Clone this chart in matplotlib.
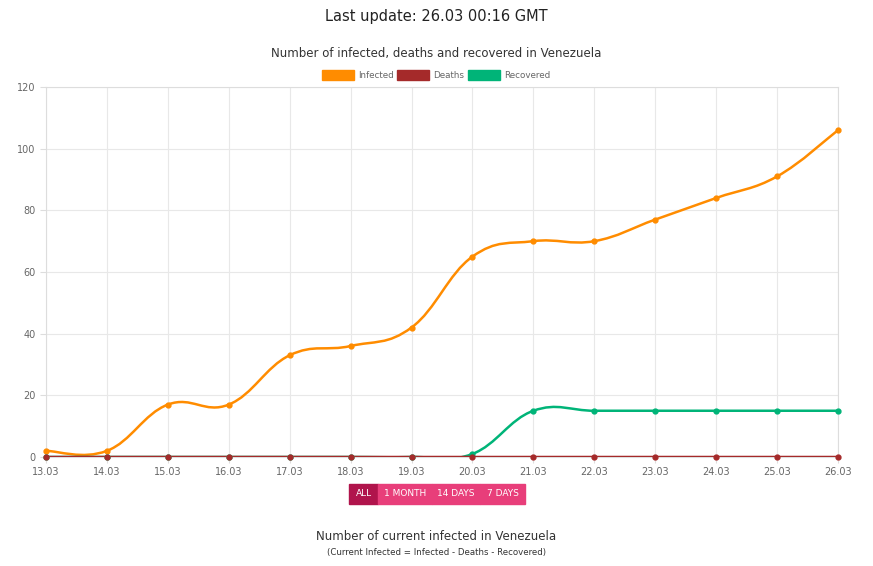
import matplotlib.pyplot as plt
from matplotlib.path import Path
from matplotlib.patches import PathPatch, Rectangle
import numpy as np

dates = ['13.03', '14.03', '15.03', '16.03', '17.03', '18.03', '19.03',
         '20.03', '21.03', '22.03', '23.03', '24.03', '25.03', '26.03']
infected = [2, 2, 17, 17, 33, 36, 42, 65, 70, 70, 77, 84, 91, 106]
deaths = [0] * 14
recovered = [0, 0, 0, 0, 0, 0, 0, 1, 15, 15, 15, 15, 15, 15]

W, H = 873, 566
fig = plt.figure(figsize=(W / 100, H / 100), dpi=100)
ax = fig.add_axes([46 / W, 1 - 457 / H, (838 - 46) / W, (457 - 87) / H])


def smooth_path(x, y, t=0.4):
    # Chart.js-like bezier with tension
    x = np.asarray(x, float); y = np.asarray(y, float)
    verts = [(x[0], y[0])]
    codes = [Path.MOVETO]
    n = len(x)
    for i in range(n - 1):
        p0 = i - 1 if i > 0 else i
        p3 = i + 2 if i + 2 < n else i + 1
        c1 = (x[i] + t / 2 * (x[i + 1] - x[p0]), y[i] + t / 2 * (y[i + 1] - y[p0]))
        c2 = (x[i + 1] - t / 2 * (x[p3] - x[i]), y[i + 1] - t / 2 * (y[p3] - y[i]))
        verts += [c1, c2, (x[i + 1], y[i + 1])]
        codes += [Path.CURVE4] * 3
    return Path(verts, codes)


xs = np.arange(len(dates))
series = [(infected, '#ff8c00', 'Infected'),
          (recovered, '#00b478', 'Recovered'),
          (deaths, '#a52a2a', 'Deaths')]
for vals, col, lab in series:
    ax.add_patch(PathPatch(smooth_path(xs, vals), fill=False, edgecolor=col, lw=1.8, zorder=3))
    ax.plot(xs, vals, 'o', color=col, ms=3.5, zorder=4, clip_on=False)

ax.set_xlim(0, len(dates) - 1)
ax.set_ylim(0, 120)
ax.set_yticks(range(0, 121, 20))
ax.set_xticks(xs)
ax.set_xticklabels(dates)
ax.tick_params(labelsize=7, colors='#666666', length=4, color='#dddddd')
ax.grid(color='#e8e8e8', lw=0.8)
for s in ax.spines.values():
    s.set_color('#dddddd')

fig.text(0.5, 1 - 16 / H, 'Last update: 26.03 00:16 GMT', ha='center', va='center', fontsize=10.5, color='#222222')
fig.text(0.5, 1 - 54 / H, 'Number of infected, deaths and recovered in Venezuela', ha='center', va='center', fontsize=8.5, color='#333333')

# legend
leg = [(322, '#ff8c00', 'Infected'), (397, '#a52a2a', 'Deaths'), (468, '#00b478', 'Recovered')]
for x0, col, lab in leg:
    fig.patches.append(Rectangle((x0 / W, 1 - 80 / H), 32 / W, 10 / H, color=col, transform=fig.transFigure))
    fig.text((x0 + 36) / W, 1 - 75 / H, lab, va='center', fontsize=6.3, color='#666666')

# buttons
btns = [(349, 378, 'ALL', '#b0144c'), (378, 432, '1 MONTH', '#e83e7a'),
        (432, 480, '14 DAYS', '#e83e7a'), (480, 525, '7 DAYS', '#e83e7a')]
for x0, x1, lab, col in btns:
    fig.patches.append(Rectangle((x0 / W, 1 - 504 / H), (x1 - x0) / W, 20 / H, color=col, transform=fig.transFigure))
    fig.text((x0 + x1) / 2 / W, 1 - 494 / H, lab, ha='center', va='center', fontsize=6.5, color='white')

fig.text(0.5, 1 - 536 / H, 'Number of current infected in Venezuela', ha='center', va='center', fontsize=8.5, color='#333333')
fig.text(0.5, 1 - 553 / H, '(Current Infected = Infected - Deaths - Recovered)', ha='center', va='center', fontsize=6.2, color='#333333')

fig.savefig('out.png', dpi=100)
